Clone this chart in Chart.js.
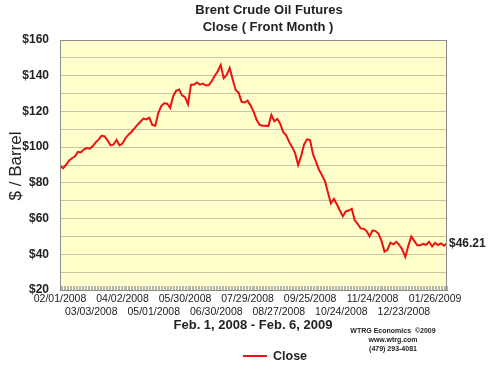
<!DOCTYPE html>
<html>
<head>
<meta charset="utf-8">
<script src="https://cdn.jsdelivr.net/npm/chart.js@4/dist/chart.umd.min.js"></script>
<style>
  html, body { margin: 0; padding: 0; background: #fff; }
  #wrap { width: 500px; height: 375px; }
</style>
</head>
<body>
<div id="wrap"><canvas id="brent" width="500" height="375"></canvas></div>
<script>
// ── Brent front-month close, sampled every 2 trading days (Feb 1 2008 → Feb 6 2009)
const dayStep = 2;
const closes = [
    89.8, 88.2, 90.0, 92.4, 93.8, 94.7, 97.3, 97.0, 98.6, 99.5,
    99.2, 100.5, 102.6, 104.3, 106.5, 106.0, 103.7, 101.0, 101.5, 104.0,
    101.0, 102.0, 105.0, 107.0, 108.5, 110.5, 112.5, 114.2, 116.0, 115.5,
    116.5, 112.5, 112.0, 119.0, 123.0, 124.6, 124.3, 122.0, 128.5, 131.5,
    132.2, 129.0, 128.0, 124.0, 135.0, 135.0, 136.2, 135.0, 135.6, 134.5,
    134.8, 137.0, 140.0, 142.5, 146.0, 138.5, 140.5, 144.3, 138.0, 132.0,
    130.5, 125.4, 125.0, 126.0, 123.4, 120.0, 115.5, 112.6, 112.0, 112.0,
    111.8, 118.0, 114.5, 115.8, 113.0, 108.3, 106.6, 102.8, 100.0, 96.5,
    90.0, 95.0, 101.5, 104.4, 104.0, 96.0, 91.8, 87.3, 84.3, 81.0,
    74.6, 68.5, 71.0, 68.0, 64.5, 61.3, 64.0, 64.5, 65.5, 59.0,
    57.0, 54.5, 54.3, 53.0, 50.0, 53.4, 53.0, 51.5, 47.5, 41.5,
    42.5, 46.5, 45.6, 47.0, 45.2, 42.5, 38.5, 44.8, 50.0, 47.5,
    45.0, 45.0, 45.8, 45.3, 47.0, 44.4, 46.4, 45.2, 46.1, 44.8,
    46.21,
];

// tick labels every 21 trading days
const tickEvery = 21;
const dateLabels = [
    "02/01/2008", "03/03/2008", "04/02/2008", "05/01/2008", "05/30/2008",
    "06/30/2008", "07/29/2008", "08/27/2008", "09/25/2008", "10/24/2008",
    "11/24/2008", "12/23/2008", "01/26/2009",
];
const yTicks = [20, 40, 60, 80, 100, 120, 140, 160];
const lastClose = "$46.21";

const lastDay = (closes.length - 1) * dayStep;
const FONT = "'Liberation Sans', Arial, sans-serif";

const decor = {
    id: "decor",
    beforeDraw(chart) {
        const { ctx, chartArea: a } = chart;
        ctx.save();
        ctx.fillStyle = "#ffffcc";
        ctx.fillRect(a.left, a.top, a.right - a.left, a.bottom - a.top);
        ctx.restore();
    },
    afterDraw(chart) {
        const { ctx, chartArea: a } = chart;
        ctx.save();
        ctx.strokeStyle = "#8c8c8c";
        ctx.lineWidth = 1;
        ctx.strokeRect(a.left + 0.5, a.top + 0.5, a.right - a.left - 1, a.bottom - a.top);

        ctx.fillStyle = "#222";
        ctx.textAlign = "center";
        ctx.textBaseline = "middle";
        ctx.font = "bold 13px " + FONT;
        ctx.fillText("Brent Crude Oil Futures", 269, 10);
        ctx.fillText("Close ( Front Month )", 268, 27);

        ctx.font = "bold 13px " + FONT;
        ctx.fillText("Feb. 1, 2008 - Feb. 6, 2009", 253, 325);

        ctx.font = "bold 7px " + FONT;
        ctx.fillText("WTRG Economics  \u00a92009", 393, 331);
        ctx.fillText("www.wtrg.com", 393, 340);
        ctx.fillText("(479) 293-4081", 393, 349);

        // y title
        ctx.save();
        ctx.translate(16, 166);
        ctx.rotate(-Math.PI / 2);
        ctx.font = "17px " + FONT;
        ctx.fillText("$ / Barrel", 0, 0);
        ctx.restore();

        // last value
        const y = chart.scales.y.getPixelForValue(closes[closes.length - 1]);
        ctx.textAlign = "left";
        ctx.font = "bold 12px " + FONT;
        ctx.fillText(lastClose, a.right + 2, y);

        // legend
        ctx.strokeStyle = "#e8161b";
        ctx.lineWidth = 2;
        ctx.beginPath();
        ctx.moveTo(243, 356);
        ctx.lineTo(267, 356);
        ctx.stroke();
        ctx.font = "bold 12.5px " + FONT;
        ctx.fillText("Close", 273, 357);
        ctx.restore();
    },
};

new Chart(document.getElementById("brent"), {
    type: "line",
    data: {
        datasets: [
            {
                label: "Close",
                data: closes.map((v, i) => ({ x: i * dayStep, y: v })),
                borderColor: "#ee1111",
                borderWidth: 2,
                pointRadius: 0,
                tension: 0,
                fill: false,
            },
        ],
    },
    options: {
        responsive: false,
        animation: false,
        layout: { padding: { top: 40, right: 53, bottom: 0, left: 0 } },
        plugins: {
            legend: { display: false },
            tooltip: { enabled: false },
        },
        scales: {
            x: {
                type: "linear",
                min: 0,
                max: lastDay,
                afterFit: (s) => { s.height = 85; },
                afterBuildTicks: (s) => {
                    const t = [];
                    for (let d = 0; d <= lastDay; d++) t.push({ value: d });
                    s.ticks = t;
                },
                grid: { drawOnChartArea: false, tickLength: -4, color: "#b5b5b5" },
                border: { color: "#8c8c8c" },
                ticks: {
                    autoSkip: false,
                    maxRotation: 0,
                    minRotation: 0,
                    padding: 7,
                    color: "#222",
                    font: { family: FONT, size: 10.5, lineHeight: 1.2 },
                    callback: function (value) {
                        if (value % tickEvery !== 0) return "";
                        const k = value / tickEvery;
                        if (k >= dateLabels.length) return "";
                        return k % 2 === 0 ? [dateLabels[k]] : ["", dateLabels[k]];
                    },
                },
            },
            y: {
                min: 20,
                max: 160,
                afterFit: (s) => { s.width = 60; },
                grid: { color: "#c9c4a3", drawTicks: false },
                border: { color: "#8c8c8c" },
                ticks: {
                    stepSize: 10,
                    padding: 11,
                    color: "#222",
                    font: { family: FONT, size: 12, weight: "bold" },
                    callback: function (value) {
                        return yTicks.includes(value) ? "$" + value : "";
                    },
                },
            },
        },
    },
    plugins: [decor],
});
</script>
</body>
</html>
